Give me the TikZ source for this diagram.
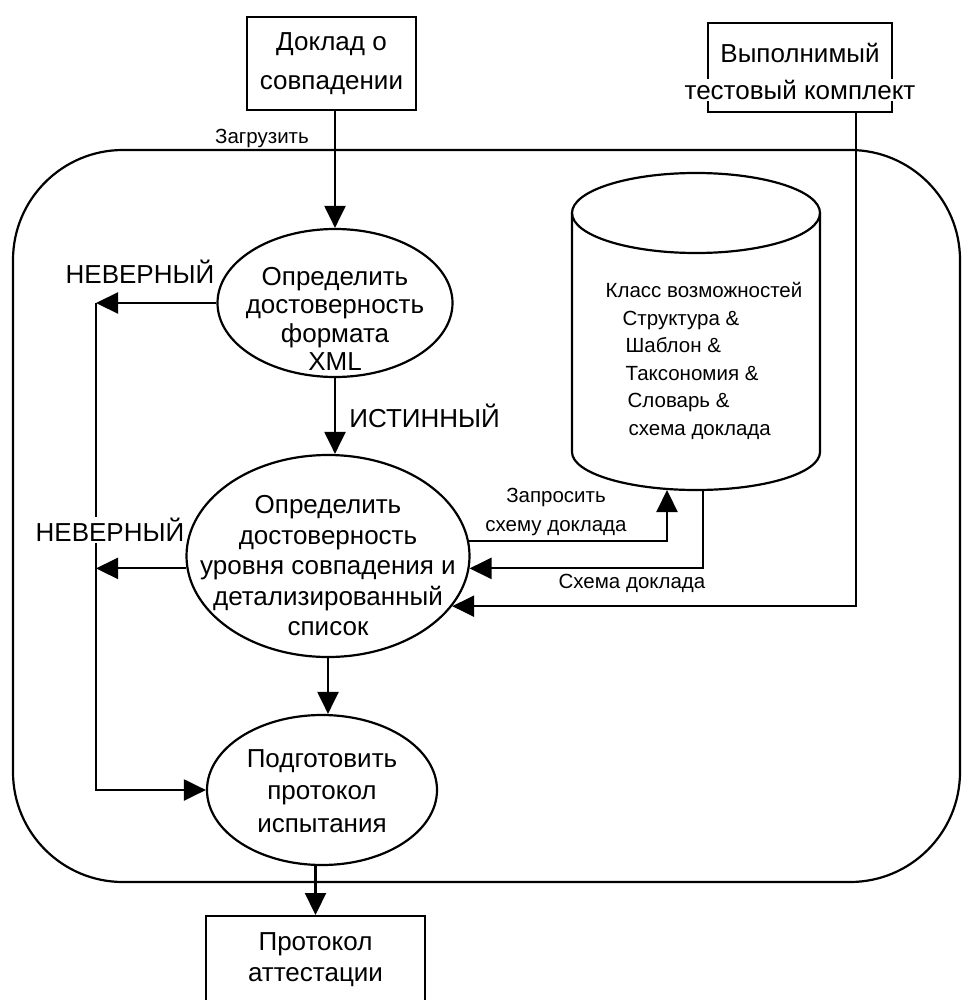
\documentclass[tikz,border=0pt]{standalone}
\usepackage{fontspec}
\setmainfont{Liberation Sans}
\usetikzlibrary{shapes.geometric,arrows.meta,positioning}

\tikzset{
  arr/.style={-{Triangle[length=22pt,width=21pt]}, line width=2.2pt},
  proc/.style={ellipse, draw, line width=2.2pt},
  doc/.style={rectangle, draw, line width=2.2pt, align=center},
  big/.style={font=\fontsize{26}{#1}\selectfont},
  big/.default=29,
  lbl/.style={font=\fontsize{20.5}{#1}\selectfont},
  lbl/.default=27,
}

\begin{document}
\begin{tikzpicture}[x=1pt, y=1pt]
  \useasboundingbox (0,0) rectangle (962,-1000);

  % frame
  \draw[line width=2.2pt, rounded corners=110pt] (13,-150) rectangle (960,-882);

  % inputs
  \node[doc, big=39, minimum width=169pt, minimum height=93pt] (dok) at (331.5,-63.5) {Доклад о\\совпадении};
  \node[doc, minimum width=184pt, minimum height=89pt] (tk) at (800,-67.5) {};
  \node[big] (tk1) at (800,-53) {Выполнимый};
  \node[big, fill=white, inner sep=1pt] (tk2) at (800,-90) {тестовый комплект};

  % processes
  \node[proc, minimum width=235pt, minimum height=148pt] (e1) at (335,-303) {};
  \node[big=28.5, align=center] (e1t) at ([yshift=-16pt]e1.center)
    {Определить\\достоверность\\формата\\XML};
  \node[proc, minimum width=283pt, minimum height=202pt] (e2) at (328,-556) {};
  \node[big=30.5, align=center] (e2t) at ([yshift=-10pt]e2.center)
    {Определить\\достоверность\\уровня совпадения и\\детализированный\\список};
  \node[proc, minimum width=230pt, minimum height=150pt] (e3) at (322,-790) {};
  \node[big=32.5, align=center] (e3t) at ([yshift=-1pt]e3.center)
    {Подготовить\\протокол\\испытания};

  % output
  \node[doc, big=31, minimum width=219pt, minimum height=88pt, anchor=north] (att) at (315.5,-915)
    {Протокол\\аттестации};

  % store
  \draw[line width=2.2pt] (696,-213) ellipse [x radius=124, y radius=40];
  \draw[line width=2.2pt] (572,-213) -- (572,-452)
    arc[start angle=180, end angle=360, x radius=124, y radius=38] -- (820,-213);
  \node[lbl=27.6, align=left] (db) at (704,-361)
    {Класс возможностей\\\hspace*{17pt}Структура \&\\\hspace*{20pt}Шаблон \&\\
     \hspace*{20pt}Таксономия \&\\\hspace*{22pt}Словарь \&\\\hspace*{23pt}схема доклада};
  \coordinate (dbin) at (667,-490);
  \coordinate (dbout) at (703,-490);
  \coordinate (bus) at (96,0);

  % connectors
  \draw[arr] (dok.south -| e1.north) -- (e1.north); % dok -> e1
  \draw[arr] (e1.south) -- node[right=10pt, big] (yes) {ИСТИННЫЙ} (e1.south |- e2.north); % e1 -> e2
  \draw[arr] (e1.west) -- (e1.west -| bus); % e1 -> bus
  \draw[arr] (e1.west -| bus) |- (e3.west); % bus -> e3
  \draw[arr] (e2.185) -- (e2.185 -| bus); % e2 -> bus
  \draw[arr] (e2.south) -- (e2.south |- e3.north); % e2 -> e3
  \draw[arr] (e3.south -| att.north) -- (att.north); % e3 -> att
  \draw[arr] (e2.6) -| (dbin); % e2 -> db
  \draw[arr] (dbout) |- (e2.-5); % db -> e2
  \draw[arr] ([xshift=56pt]tk.south) |- (e2.-22); % tk -> e2

  % labels
  \node[lbl] (load) at (262,-138) {Загрузить};
  \node[big] (no1) at (140,-272) {НЕВЕРНЫЙ};
  \node[big, fill=white, inner sep=1pt] (no2) at (110,-530) {НЕВЕРНЫЙ};
  \node[lbl=29, align=center] (ask) at (556,-512) {Запросить\\схему доклада};
  \node[lbl] (ans) at (632,-583) {Схема доклада};
\end{tikzpicture}
\end{document}
